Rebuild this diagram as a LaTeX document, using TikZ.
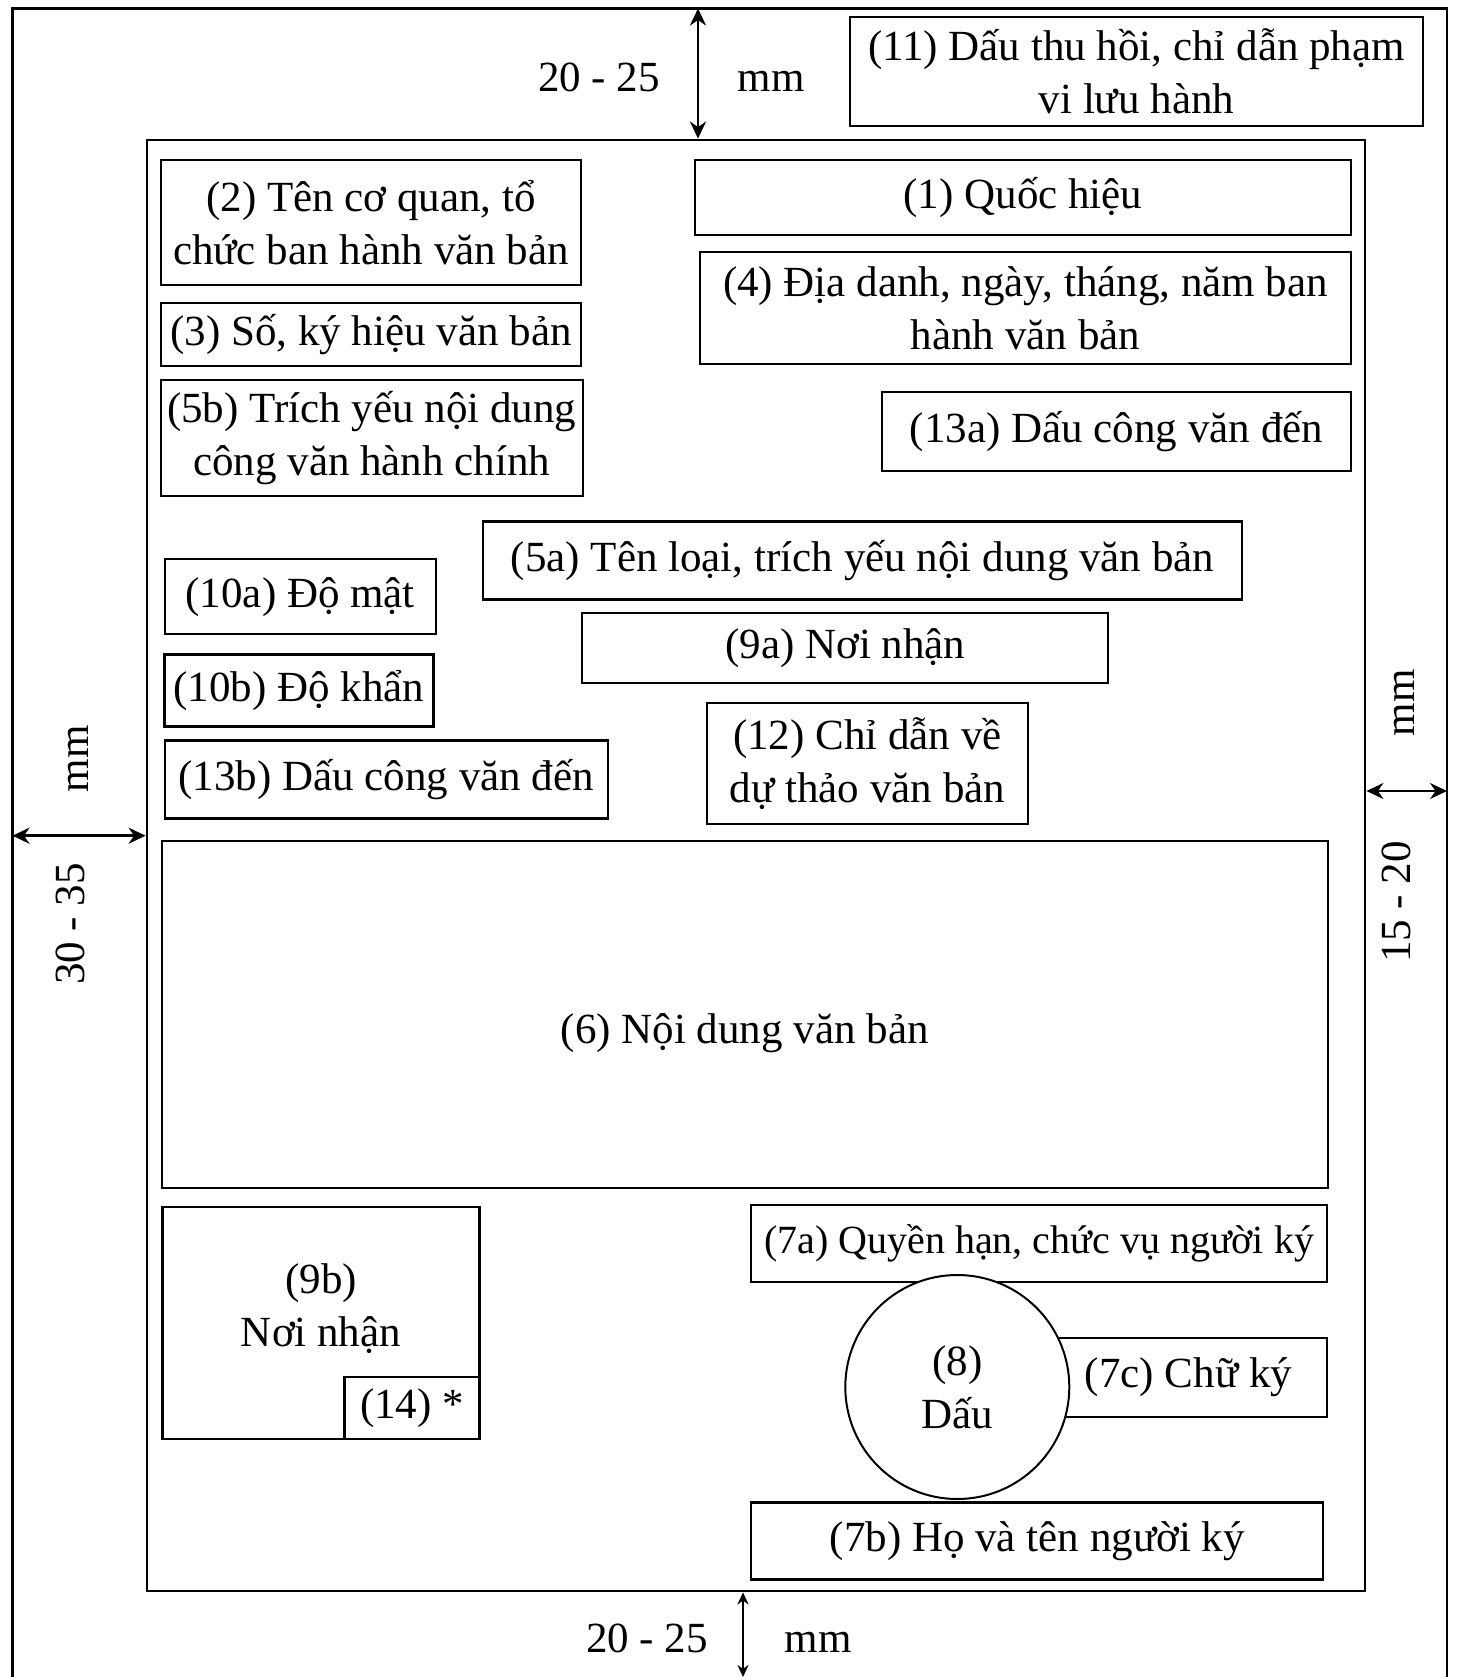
\documentclass[tikz,border=0pt]{standalone}
\usepackage{fontspec}
\setmainfont{Liberation Serif}
\usetikzlibrary{arrows.meta, positioning}

\begin{document}
\begin{tikzpicture}[
    x=1pt, y=-1pt,
    every node/.style={font=\fontsize{43}{53}\selectfont},
    box/.style={rectangle, draw, line width=2.4pt, inner sep=0pt, align=center},
    seal/.style={circle, draw, line width=2pt, fill=white, minimum size=224pt, inner sep=0pt, align=center},
    frame/.style={rectangle, draw, line width=2.8pt, inner sep=0pt},
    dim/.style={<->, line width=2.8pt, >={Stealth[length=17pt, width=16pt]}},
    note/.style={anchor=base}
]
    \useasboundingbox (0,0) rectangle (1456,1677);

    \draw[line width=2.8pt] (12.5,1677) -- (12.5,8.5) -- (1447,8.5) -- (1447,1677);
    \node[frame, minimum width=1218pt, minimum height=1451pt] (vung) at (756,865.5) {};

    \node[box, minimum width=573pt, minimum height=109pt] (thuhoi) at (1136.5,71.5) {(11) Dấu thu hồi, chỉ dẫn phạm\\vi lưu hành};
    \node[box, minimum width=420pt, minimum height=125pt] (coquan) at (371,222.5) {(2) Tên cơ quan, tổ\\chức ban hành văn bản};
    \node[box, minimum width=420pt, minimum height=63pt] (sokyhieu) at (371,334.5) {(3) Số, ký hiệu văn bản};
    \node[box, minimum width=422pt, minimum height=116pt] (trichyeu) at (371.75,438) {(5b) Trích yếu nội dung\\công văn hành chính};
    \node[box, minimum width=656pt, minimum height=75pt] (quochieu) at (1023,197.25) {(1) Quốc hiệu};
    \node[box, minimum width=651pt, minimum height=112pt] (diadanh) at (1025.5,308) {(4) Địa danh, ngày, tháng, năm ban\\hành văn bản};
    \node[box, minimum width=469pt, minimum height=79pt] (dautren) at (1116.5,431.5) {(13a) Dấu công văn đến};
    \node[box, minimum width=759pt, minimum height=78pt] (tenloai) at (862.5,560.5) {(5a) Tên loại, trích yếu nội dung văn bản};
    \node[box, minimum width=271pt, minimum height=75pt] (domat) at (300.25,596.75) {(10a) Độ mật};
    \node[box, minimum width=269pt, minimum height=72pt] (dokhan) at (299,690.5) {(10b) Độ khẩn};
    \node[box, minimum width=443pt, minimum height=78pt] (dauduoi) at (386.25,779.5) {(13b) Dấu công văn đến};
    \node[box, minimum width=526pt, minimum height=70pt] (noinhan) at (845.25,648) {(9a) Nơi nhận};
    \node[box, minimum width=321pt, minimum height=121pt] (duthao) at (867.5,763.25) {(12) Chỉ dẫn về\\dự thảo văn bản};
    \node[box, minimum width=1166pt, minimum height=347pt, text height=66pt] (noidung) at (744.75,1014.75) {(6) Nội dung văn bản};

    \node[box, minimum width=317pt, minimum height=232pt] (nhanduoi) at (321,1322.75) {};
    \node (nhanchu) at ([yshift=14pt]nhanduoi.center) [align=center] {(9b)\\Nơi nhận};
    \node[box, minimum width=135pt, minimum height=62pt] (sao) at (412,1408) {(14) *};

    \node[box, minimum width=576pt, minimum height=77pt, font=\fontsize{40}{53}\selectfont] (quyenhan) at (1039,1243.25) {(7a) Quyền hạn, chức vụ người ký};
    \node[box, minimum width=277pt, minimum height=79pt] (chuky) at (1188.5,1377.25) {(7c) Chữ ký};
    \node[seal] (dau) at (957.3,1387) {(8)\\Dấu};
    \node[box, minimum width=572pt, minimum height=77pt] (hoten) at (1037.25,1541) {(7b) Họ và tên người ký};

    \coordinate (mepTren) at (698,8.5);
    \coordinate (mepTrai) at (12.5,835.7);
    \coordinate (mepPhai) at (1447,791);
    \coordinate (mepDuoi) at (743,1677);

    \draw[dim] (mepTren) -- (mepTren |- vung.north);
    \draw[dim] (mepTrai) -- (mepTrai -| vung.west);
    \draw[dim, line width=2.2pt] (mepPhai -| vung.east) -- (mepPhai);
    \draw[dim, line width=2pt, >={Stealth[length=12pt, width=11pt]}] (mepDuoi |- vung.south) -- (mepDuoi);

    \node[note] (tren1) at (599,92) {20 - 25};
    \node[note] (tren2) at (771,92) {mm};
    \node[note] (duoi1) at (647,1652) {20 - 25};
    \node[note] (duoi2) at (818,1652) {mm};
    \node[note, rotate=90] (trai1) at (88,759) {mm};
    \node[note, rotate=90] (trai2) at (84,924) {30 - 35};
    \node[note, rotate=90] (phai1) at (1414,703) {mm};
    \node[note, rotate=90] (phai2) at (1410,902) {15 - 20};
\end{tikzpicture}
\end{document}
